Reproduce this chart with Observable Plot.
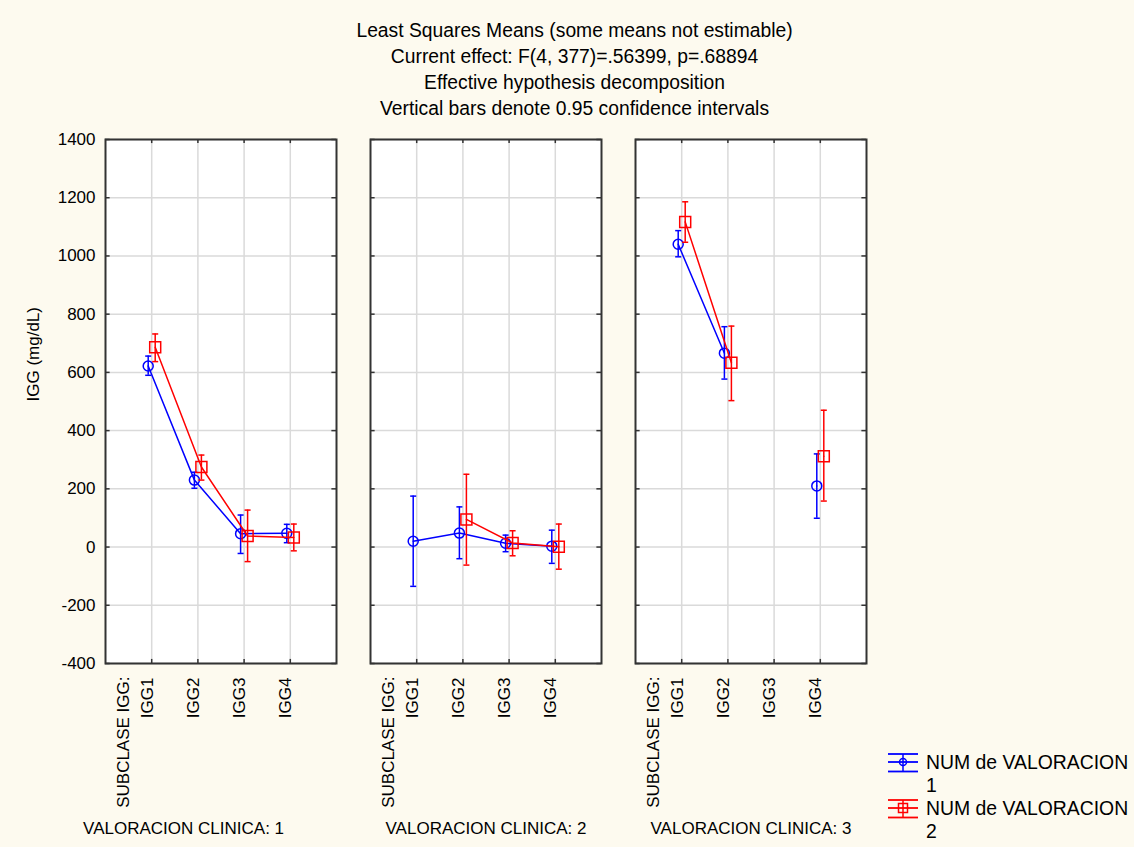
<!DOCTYPE html>
<html>
<head>
<meta charset="utf-8">
<script src="https://cdn.jsdelivr.net/npm/d3@7"></script>
<script src="https://cdn.jsdelivr.net/npm/@observablehq/plot@0.6"></script>
<style>
html, body { margin: 0; padding: 0; background: #fdfaef; }
body { width: 1134px; height: 847px; position: relative; overflow: hidden;
  font-family: "Liberation Sans", Arial, sans-serif; color: #000; }
#title { padding-top: 18px; padding-left: 15px; text-align: center; font-size: 19.3px;
  line-height: 26px; height: 105px; }
#chart svg { display: block; }
#legend { position: absolute; left: 888px; top: 751px; font-size: 19.4px; line-height: 23px; }
.entry { display: flex; align-items: flex-start; }
.entry svg { margin-right: 8px; flex: none; display: block; }
</style>
</head>
<body>
<div id="title"></div>
<div id="chart"></div>
<div id="legend"></div>
<script>
// ---- text ----
const titleLines = [
  "Least Squares Means (some means not estimable)",
  "Current effect: F(4, 377)=.56399, p=.68894",
  "Effective hypothesis decomposition",
  "Vertical bars denote 0.95 confidence intervals"
];
const yLabel = "IGG (mg/dL)";
const xAxisTitle = "SUBCLASE IGG:";
const facetLabel = "VALORACION CLINICA: ";

// ---- categories ----
const categories = ["IGG1", "IGG2", "IGG3", "IGG4"];
const panels = [1, 2, 3];
const seriesNames = ["NUM de VALORACION 1", "NUM de VALORACION 2"];
const seriesColors = ["#0000ff", "#ff0000"];
const yTicks = [-400, -200, 0, 200, 400, 600, 800, 1000, 1200, 1400];

// ---- NUM de VALORACION 1 (per panel: IGG1..IGG4) ----
const mean1 = [[622, 230, 46, 47], [20, 48, 13, 3], [1040, 666, null, 210]];
const low1  = [[590, 202, -22, 15], [-135, -40, -16, -56], [997, 577, null, 99]];
const high1 = [[656, 257, 110, 78], [175, 138, 41, 58], [1087, 757, null, 320]];

// ---- NUM de VALORACION 2 ----
const mean2 = [[686, 275, 38, 33], [null, 95, 14, 1], [1117, 633, null, 312]];
const low2  = [[637, 230, -50, -13], [null, -62, -30, -76], [1047, 503, null, 158]];
const high2 = [[732, 316, 127, 79], [null, 250, 56, 79], [1186, 759, null, 470]];

// ---- build tables ----
function buildRows(m, l, h) {
  const rows = [];
  panels.forEach((p, pi) => categories.forEach((c, ci) => {
    rows.push({panel: p, cat: c, pos: ci + 1, mean: m[pi][ci], low: l[pi][ci], high: h[pi][ci]});
  }));
  return rows;
}
const rows1 = buildRows(mean1, low1, high1);
const rows2 = buildRows(mean2, low2, high2);
const tickRows = panels.flatMap(p => categories.map((c, i) => ({panel: p, label: c, pos: i + 1})));
const xGrid = categories.map((c, i) => i + 1);

// error bar cap as a horizontal dash symbol
const capSymbol = {
  draw(ctx, size) {
    const w = Math.sqrt(size) / 2;
    ctx.moveTo(-w, 0);
    ctx.lineTo(w, 0);
  }
};

function seriesMarks(rows, color, dx, symbol, r) {
  return [
    Plot.line(rows, {fx: "panel", x: "pos", y: "mean", stroke: color, strokeWidth: 1.5, dx}),
    Plot.ruleX(rows, {fx: "panel", x: "pos", y1: "low", y2: "high", stroke: color, strokeWidth: 1.5, dx}),
    Plot.dot(rows, {fx: "panel", x: "pos", y: "low", symbol: capSymbol, r: 3.4, stroke: color, strokeWidth: 1.5, dx}),
    Plot.dot(rows, {fx: "panel", x: "pos", y: "high", symbol: capSymbol, r: 3.4, stroke: color, strokeWidth: 1.5, dx}),
    Plot.dot(rows, {fx: "panel", x: "pos", y: "mean", symbol, r, stroke: color, fill: "none", strokeWidth: 1.5, dx})
  ];
}

const font = "Liberation Sans, Arial, sans-serif";

const chart = Plot.plot({
  width: 1134,
  height: 724,
  marginLeft: 104,
  marginRight: 268,
  marginTop: 16,
  marginBottom: 184,
  style: {background: "transparent", fontFamily: font, fontSize: "17px", color: "#000", overflow: "visible"},
  fx: {domain: panels, paddingInner: 0.13, paddingOuter: 0, axis: null},
  x: {domain: [0, 5], axis: null},
  y: {domain: [-400, 1400], axis: null},
  marks: [
    Plot.frame({fill: "white"}),
    Plot.gridY(yTicks, {stroke: "#dadada", strokeOpacity: 1, strokeWidth: 1.5}),
    Plot.gridX(xGrid, {stroke: "#dadada", strokeOpacity: 1, strokeWidth: 1.5}),
    Plot.ruleY(yTicks, {x1: 0, x2: 0.1, stroke: "#333", strokeWidth: 1.5}),
    Plot.ruleY(yTicks, {x1: 4.9, x2: 5, stroke: "#333", strokeWidth: 1.5}),
    Plot.ruleX(xGrid, {y1: 1400, y2: 1386, stroke: "#333", strokeWidth: 1.5}),
    Plot.ruleX(xGrid, {y1: -400, y2: -386, stroke: "#333", strokeWidth: 1.5}),
    Plot.frame({stroke: "#333", strokeWidth: 2}),
    Plot.axisY({ticks: yTicks, tickSize: 0, tickPadding: 10, label: null, fontSize: 17, tickFormat: d => String(d)}),
    Plot.text([yLabel], {fx: () => 1, text: d => d, frameAnchor: "left", rotate: -90, dx: -72, fontSize: 17}),
    Plot.text(tickRows, {fx: "panel", x: "pos", text: "label", frameAnchor: "bottom", rotate: -90, textAnchor: "end", dx: 1, dy: 14, fontSize: 17}),
    Plot.text(panels, {fx: d => d, x: 0.48, text: () => xAxisTitle, frameAnchor: "bottom", rotate: -90, textAnchor: "end", dx: 1, dy: 13, fontSize: 17}),
    Plot.text(panels, {fx: d => d, x: d => d === 1 ? 1.69 : 2.5, text: d => facetLabel + d, frameAnchor: "bottom", dy: 170, fontSize: 17}),
    ...seriesMarks(rows1, seriesColors[0], -3.5, "circle", 5),
    ...seriesMarks(rows2, seriesColors[1], 3.5, "square", 6.2)
  ]
});
document.getElementById("chart").appendChild(chart);

// ---- title ----
const titleDiv = document.getElementById("title");
titleLines.forEach(t => { const d = document.createElement("div"); d.textContent = t; titleDiv.appendChild(d); });

// ---- legend ----
const legend = document.getElementById("legend");
seriesNames.forEach((name, i) => {
  const color = seriesColors[i];
  const entry = document.createElement("div");
  entry.className = "entry";
  const marker = i === 0
    ? `<circle cx="15" cy="11" r="3.5" fill="none" stroke="${color}" stroke-width="1.5"/>`
    : `<rect x="10.5" y="6.5" width="9" height="9" fill="none" stroke="${color}" stroke-width="1.5"/>`;
  entry.innerHTML = `<svg width="30" height="23" viewBox="0 0 30 23">
      <line x1="0" x2="30" y1="3" y2="3" stroke="${color}" stroke-width="1.8"/>
      <line x1="0" x2="30" y1="11" y2="11" stroke="${color}" stroke-width="1.8"/>
      <line x1="0" x2="30" y1="20.5" y2="20.5" stroke="${color}" stroke-width="1.8"/>
      <line x1="15" x2="15" y1="3" y2="20.5" stroke="${color}" stroke-width="1.5"/>
      ${marker}
    </svg>`;
  const words = name.split(" ");
  const label = document.createElement("div");
  label.appendChild(document.createTextNode(words.slice(0, -1).join(" ")));
  label.appendChild(document.createElement("br"));
  label.appendChild(document.createTextNode(words[words.length - 1]));
  entry.appendChild(label);
  legend.appendChild(entry);
});
</script>
</body>
</html>
